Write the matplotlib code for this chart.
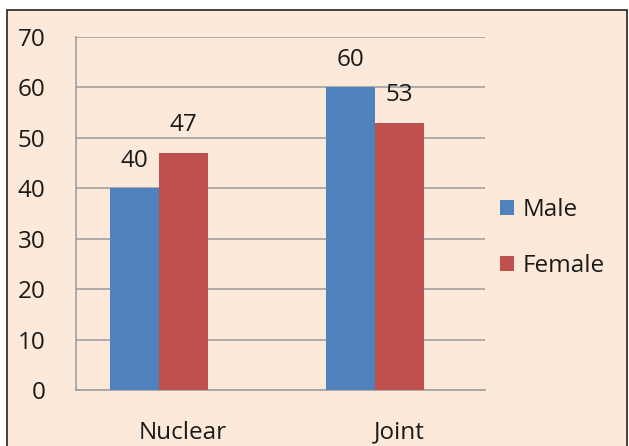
import matplotlib
matplotlib.use("Agg")
import matplotlib.pyplot as plt
import matplotlib.transforms as mtransforms
from matplotlib.patches import Patch, Rectangle
import numpy as np

plt.rcParams['font.family'] = ['Open Sans', 'DejaVu Sans']

categories = ["Nuclear", "Joint"]
series_names = ["Male", "Female"]
male = [40, 60]
female = [47, 53]
y_ticks = [0, 10, 20, 30, 40, 50, 60, 70]

blue = "#4F81BD"
red = "#C0504D"
bg = "#FDE9D9"
grid_c = "#A0A0A0"
text_c = "#1A1A1A"
fs = 17.5

W, H = 629, 446
fig = plt.figure(figsize=(W / 100, H / 100), dpi=100)
fig.patch.set_facecolor("white")

# chart frame
frame = Rectangle((7 / W, -0.05), (627 - 7) / W, (H - 9.5) / H + 0.05,
                  transform=fig.transFigure, facecolor=bg, edgecolor="#222222",
                  linewidth=1.2, zorder=-10)
fig.patches.append(frame)

ax = fig.add_axes([76 / W, (H - 390) / H, (485 - 76) / W, (390 - 36.7) / H])
ax.set_facecolor(bg)
ax.patch.set_alpha(0)

x = np.arange(len(categories))
w = 0.225
b1 = ax.bar(x - w / 2, male, width=w, color=blue, label=series_names[0], zorder=3)
b2 = ax.bar(x + w / 2, female, width=w, color=red, label=series_names[1], zorder=3)

for bars, vals in ((b1, male), (b2, female)):
    for rect, v in zip(bars, vals):
        ax.annotate(str(v), (rect.get_x() + rect.get_width() / 2, v),
                    xytext=(0, 15.5), textcoords="offset points",
                    ha="center", va="baseline", fontsize=fs, color=text_c)

ax.set_xlim(-0.384, 1.509)
ax.set_ylim(0, 70)
ax.set_yticks(y_ticks)
ax.set_yticklabels([str(t) for t in y_ticks])
ax.set_xticks(x)
ax.set_xticklabels(categories)
ax.tick_params(axis="both", length=0, labelsize=fs, labelcolor=text_c)
ax.tick_params(axis="y", pad=22)
ax.tick_params(axis="x", pad=22)
offset = mtransforms.ScaledTranslation(24 / 100, 0, fig.dpi_scale_trans)
for lbl in ax.get_xticklabels():
    lbl.set_transform(lbl.get_transform() + offset)

ax.grid(axis="y", color=grid_c, linewidth=1.2, zorder=0)
ax.set_axisbelow(True)
for s in ("top", "right"):
    ax.spines[s].set_visible(False)
ax.spines["left"].set_color(grid_c)
ax.spines["bottom"].set_color(grid_c)
ax.spines["left"].set_linewidth(1.2)
ax.spines["bottom"].set_linewidth(1.2)

handles = [Patch(facecolor=blue), Patch(facecolor=red)]
fig.legend(handles, series_names, loc="center left",
           bbox_to_anchor=(478 / W, (H - 238) / H), frameon=False,
           fontsize=fs, handlelength=0.6, handleheight=0.6,
           handletextpad=0.35, labelspacing=1.3, labelcolor=text_c)

fig.savefig("out.png", dpi=100, facecolor=fig.get_facecolor())
